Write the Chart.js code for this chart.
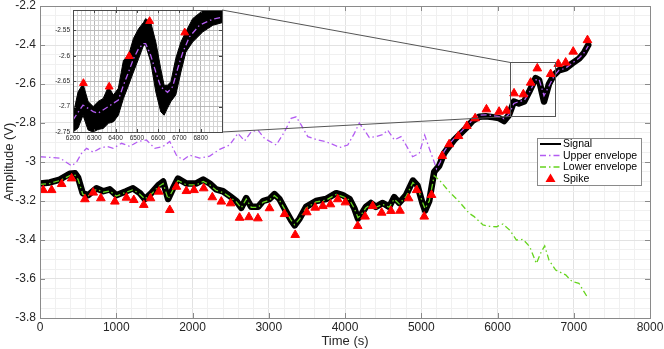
<!DOCTYPE html>
<html>
<head>
<meta charset="utf-8">
<script src="https://cdn.jsdelivr.net/npm/chart.js@4.4.1/dist/chart.umd.min.js"></script>
<style>
  html, body { margin: 0; padding: 0; background: #fff; }
  #wrap { position: relative; width: 664px; height: 349px; }
  #main { position: absolute; left: 0; top: 0; }
  #inset { position: absolute; left: 48px; top: 4px; }
</style>
</head>
<body>
<div id="wrap">
  <canvas id="main" width="664" height="349"></canvas>
  <canvas id="inset" width="180" height="140"></canvas>
</div>
<script>
// ---- main plot data (time in s, amplitude in V) ----
const signalTime = [0,130,260,390,460,500,560,630,740,830,915,1000,1130,1220,1310,1375,1460,1550,1615,1680,1745,1810,1920,2050,2140,2225,2310,2400,2490,2575,2640,2705,2770,2860,2925,3010,3075,3140,3230,3295,3340,3405,3490,3620,3750,3885,3970,4060,4125,4170,4210,4275,4340,4405,4495,4580,4645,4710,4800,4890,4950,5015,5050,5105,5170,5235,5300,5365,5430,5500,5585,5670,5760,5845,5935,6020,6085,6150,6215,6280,6350,6415,6500,6545,6610,6675,6740,6805,6895,6980,7070,7135,7190];
const signalAmp = [-3.11,-3.105,-3.09,-3.06,-3.058,-3.08,-3.16,-3.17,-3.135,-3.15,-3.14,-3.17,-3.15,-3.135,-3.16,-3.19,-3.16,-3.12,-3.10,-3.19,-3.135,-3.085,-3.11,-3.11,-3.09,-3.11,-3.14,-3.15,-3.175,-3.2,-3.235,-3.185,-3.23,-3.23,-3.2,-3.19,-3.165,-3.19,-3.255,-3.30,-3.325,-3.29,-3.23,-3.2,-3.19,-3.16,-3.17,-3.19,-3.24,-3.29,-3.27,-3.23,-3.21,-3.23,-3.21,-3.23,-3.18,-3.21,-3.17,-3.095,-3.12,-3.21,-3.25,-3.2,-3.05,-3.02,-2.955,-2.92,-2.887,-2.86,-2.827,-2.79,-2.768,-2.765,-2.77,-2.775,-2.79,-2.76,-2.69,-2.70,-2.69,-2.64,-2.57,-2.58,-2.69,-2.60,-2.554,-2.53,-2.52,-2.494,-2.47,-2.44,-2.40];

const upperTime = [0,262,415,480,546,611,698,785,873,960,1069,1178,1287,1396,1505,1614,1702,1789,1876,1963,2094,2225,2356,2487,2596,2683,2771,2858,2945,3098,3207,3294,3360,3425,3512,3622,3752,3861,3927,4036,4123,4188,4254,4319,4407,4494,4559,4647,4734,4800,4887,4974,5045,5105,5170,5200,5250,5300,5365,5430,5500,5585,5670,5760,5845,5935,6020,6085,6150,6215,6280,6350,6415,6500,6545,6610,6675,6740,6805,6895,6980,7070,7135,7190];
const upperAmp = [-2.973,-2.98,-3.02,-3.0,-2.955,-2.93,-2.95,-2.93,-2.92,-2.93,-2.904,-2.92,-2.895,-2.887,-2.93,-2.92,-2.895,-2.965,-2.99,-2.965,-2.98,-2.97,-2.935,-2.913,-2.853,-2.892,-2.845,-2.836,-2.879,-2.913,-2.845,-2.776,-2.768,-2.81,-2.87,-2.885,-2.896,-2.913,-2.926,-2.913,-2.853,-2.80,-2.836,-2.875,-2.87,-2.86,-2.836,-2.887,-2.87,-2.913,-2.973,-2.956,-2.862,-2.93,-3.0,-3.035,-3.0,-2.945,-2.91,-2.88,-2.853,-2.82,-2.785,-2.76,-2.758,-2.762,-2.767,-2.778,-2.755,-2.70,-2.69,-2.685,-2.645,-2.58,-2.575,-2.66,-2.61,-2.56,-2.53,-2.518,-2.493,-2.467,-2.44,-2.405];

const lowerTime = [0,130,260,390,460,500,560,630,740,830,915,1000,1130,1220,1310,1375,1460,1550,1615,1680,1745,1810,1920,2050,2140,2225,2310,2400,2490,2575,2640,2705,2770,2860,2925,3010,3075,3140,3230,3295,3340,3405,3490,3620,3750,3885,3970,4060,4125,4170,4210,4275,4340,4405,4495,4580,4645,4710,4800,4890,4950,5015,5050,5105,5170,5236,5366,5497,5628,5694,5810,5900,5986,6072,6160,6248,6335,6422,6510,6575,6619,6675,6763,6894,6981,7068,7134,7190];
const lowerAmp = [-3.115,-3.11,-3.095,-3.07,-3.068,-3.09,-3.165,-3.175,-3.14,-3.155,-3.148,-3.175,-3.155,-3.142,-3.165,-3.19,-3.165,-3.128,-3.11,-3.19,-3.142,-3.095,-3.117,-3.117,-3.1,-3.117,-3.145,-3.157,-3.18,-3.205,-3.235,-3.19,-3.232,-3.233,-3.207,-3.195,-3.172,-3.195,-3.257,-3.30,-3.322,-3.292,-3.236,-3.205,-3.196,-3.166,-3.177,-3.195,-3.24,-3.285,-3.272,-3.235,-3.217,-3.232,-3.217,-3.232,-3.19,-3.215,-3.178,-3.105,-3.125,-3.205,-3.24,-3.2,-3.07,-3.092,-3.152,-3.203,-3.263,-3.28,-3.323,-3.33,-3.332,-3.318,-3.349,-3.40,-3.397,-3.434,-3.52,-3.46,-3.43,-3.503,-3.554,-3.579,-3.614,-3.622,-3.665,-3.70];

const spikeTime = [43,153,284,415,589,698,798,982,1134,1230,1361,1449,1558,1702,1789,1920,2020,2147,2260,2378,2500,2618,2740,2858,3010,3207,3347,3499,3609,3709,3809,3905,4005,4167,4263,4363,4481,4603,4721,4834,4939,5039,5135,5275,5366,5488,5598,5707,5855,6021,6121,6217,6339,6435,6522,6697,6797,6894,6993,7180];
const spikeAmp = [-3.144,-3.144,-3.113,-3.084,-3.191,-3.157,-3.186,-3.203,-3.183,-3.195,-3.22,-3.186,-3.152,-3.246,-3.127,-3.149,-3.144,-3.135,-3.181,-3.203,-3.212,-3.286,-3.283,-3.289,-3.237,-3.267,-3.374,-3.258,-3.234,-3.226,-3.217,-3.191,-3.207,-3.328,-3.28,-3.226,-3.26,-3.251,-3.25,-3.186,-3.144,-3.28,-3.169,-2.969,-2.909,-2.867,-2.815,-2.776,-2.73,-2.742,-2.737,-2.648,-2.653,-2.593,-2.52,-2.549,-2.497,-2.49,-2.434,-2.375];

const xTicks = [0,1000,2000,3000,4000,5000,6000,7000,8000];
const yTicks = [-3.8,-3.6,-3.4,-3.2,-3,-2.8,-2.6,-2.4,-2.2];
const legendLabels = ['Signal','Upper envelope','Lower envelope','Spike'];

// ---- inset (zoom of 6200-6900 s) ----
const zoomTime = [6200,6224,6247,6271,6295,6318,6342,6366,6390,6413,6437,6461,6484,6508,6532,6541,6565,6589,6612,6628,6644,6660,6683,6707,6730,6762,6810,6857,6900];
const zoomLow  = [-2.75,-2.742,-2.717,-2.746,-2.75,-2.745,-2.743,-2.733,-2.73,-2.717,-2.684,-2.658,-2.632,-2.606,-2.579,-2.579,-2.612,-2.671,-2.71,-2.717,-2.703,-2.69,-2.677,-2.632,-2.593,-2.573,-2.553,-2.54,-2.535];
const zoomHigh = [-2.717,-2.671,-2.655,-2.69,-2.70,-2.69,-2.684,-2.661,-2.677,-2.664,-2.609,-2.599,-2.566,-2.547,-2.534,-2.527,-2.534,-2.573,-2.625,-2.658,-2.658,-2.651,-2.605,-2.573,-2.553,-2.527,-2.511,-2.505,-2.50];
const zoomEnvTime = [6200,6247,6295,6318,6366,6413,6437,6461,6484,6508,6532,6541,6565,6589,6612,6644,6668,6692,6716,6747,6794,6857,6900];
const zoomEnvAmp  = [-2.726,-2.697,-2.71,-2.713,-2.70,-2.687,-2.658,-2.632,-2.606,-2.586,-2.576,-2.576,-2.599,-2.632,-2.661,-2.672,-2.661,-2.625,-2.593,-2.563,-2.54,-2.528,-2.524];
const zoomSpikeTime = [6249,6370,6464,6560,6725];
const zoomSpikeAmp  = [-2.654,-2.661,-2.601,-2.532,-2.5545];
const zoomXTicks = [6200,6300,6400,6500,6600,6700,6800];
const zoomYTicks = [-2.75,-2.7,-2.65,-2.6,-2.55];
// rectangle marking the zoomed region on the main axes [x0, x1, y0, y1]
const zoomBox = [6170, 6760, -2.765, -2.487];

const PURPLE = '#b35cf2', GREEN = '#66d41e', RED = '#ff0000', INK = '#262626';
const DASHDOT = [6, 3, 1.5, 3];
const INSET_LEFT = 48, INSET_TOP = 4;

Chart.defaults.font.family = '"Liberation Sans", Arial, Helvetica, sans-serif';

const pts = (xs, ys) => xs.map((x, i) => ({x: x, y: ys[i]}));
const near = (list, v, eps) => list.find(t => Math.abs(t - v) < eps);

function drawFrame(chart, xs, ys, color, len) {
  const {ctx, chartArea: a, scales: {x, y}} = chart;
  ctx.save();
  ctx.strokeStyle = color;
  ctx.lineWidth = 1;
  ctx.beginPath();
  xs.forEach(v => {
    const px = Math.round(x.getPixelForValue(v)) + 0.5;
    ctx.moveTo(px, a.bottom); ctx.lineTo(px, a.bottom - len);
    ctx.moveTo(px, a.top); ctx.lineTo(px, a.top + len);
  });
  ys.forEach(v => {
    const py = Math.round(y.getPixelForValue(v)) + 0.5;
    ctx.moveTo(a.left, py); ctx.lineTo(a.left + len, py);
    ctx.moveTo(a.right, py); ctx.lineTo(a.right - len, py);
  });
  ctx.stroke();
  ctx.strokeRect(Math.round(a.left) + 0.5, Math.round(a.top) + 0.5,
                 Math.round(a.right - a.left), Math.round(a.bottom - a.top));
  ctx.restore();
}

const insetDeco = {
  id: 'insetDeco',
  beforeDraw(chart) {
    const {ctx, chartArea: a} = chart;
    ctx.save();
    ctx.fillStyle = '#fff';
    ctx.fillRect(a.left, a.top, a.right - a.left, a.bottom - a.top);
    ctx.restore();
  },
  afterDraw(chart) {
    drawFrame(chart, zoomXTicks, zoomYTicks, '#4a4a4a', 3);
  }
};

const insetChart = new Chart(document.getElementById('inset'), {
  type: 'line',
  data: {
    datasets: [
      {data: pts(zoomTime, zoomLow), borderColor: '#000', borderWidth: 1, pointRadius: 0, fill: false, order: 2},
      {data: pts(zoomTime, zoomHigh), borderColor: '#000', borderWidth: 1, pointRadius: 0, fill: '-1', backgroundColor: '#000', order: 2},
      {data: pts(zoomEnvTime, zoomEnvAmp), borderColor: PURPLE, borderWidth: 1.3, borderDash: DASHDOT, pointRadius: 0, fill: false, order: 1},
      {data: pts(zoomSpikeTime, zoomSpikeAmp), showLine: false, pointStyle: 'triangle', pointRadius: 4.5,
       backgroundColor: RED, borderColor: RED, borderWidth: 1, order: 0}
    ]
  },
  options: {
    responsive: false, animation: false, events: [], devicePixelRatio: 1,
    layout: {padding: {top: 6, right: 6, left: 0, bottom: 0}},
    plugins: {legend: {display: false}, tooltip: {enabled: false}},
    scales: {
      x: {
        type: 'linear', min: 6200, max: 6900,
        afterFit: s => { s.height = 12; s.paddingLeft = 0; s.paddingRight = 0; },
        ticks: {stepSize: 20, autoSkip: false, maxRotation: 0, padding: 2, font: {size: 6.5}, color: INK,
                callback: v => { const t = near(zoomXTicks, v, 1); return t === undefined ? '' : String(t); }},
        grid: {drawTicks: false, color: c => (c.tick && near(zoomXTicks, c.tick.value, 1) !== undefined) ? '#b8b8b8' : '#d4d4d4'},
        border: {display: false}
      },
      y: {
        type: 'linear', min: -2.75, max: -2.51,
        afterFit: s => { s.width = 25; s.paddingTop = 0; s.paddingBottom = 0; },
        ticks: {stepSize: 0.01, autoSkip: false, padding: 3, font: {size: 6.5}, color: INK,
                callback: v => { const t = near(zoomYTicks, v, 1e-4); return t === undefined ? '' : String(t); }},
        grid: {drawTicks: false, color: c => (c.tick && near(zoomYTicks, c.tick.value, 1e-4) !== undefined) ? '#b8b8b8' : '#d4d4d4'},
        border: {display: false}
      }
    }
  },
  plugins: [insetDeco]
});

const mainDeco = {
  id: 'mainDeco',
  afterDatasetsDraw(chart) {
    const {ctx, scales: {x, y}} = chart;
    const bx0 = Math.round(x.getPixelForValue(zoomBox[0])) + 0.5;
    const bx1 = Math.round(x.getPixelForValue(zoomBox[1])) + 0.5;
    const byT = Math.round(y.getPixelForValue(zoomBox[3])) + 0.5;
    const byB = Math.round(y.getPixelForValue(zoomBox[2])) + 0.5;
    const ia = insetChart.chartArea;
    ctx.save();
    ctx.strokeStyle = '#555';
    ctx.lineWidth = 1;
    ctx.strokeRect(bx0, byT, bx1 - bx0, byB - byT);
    ctx.beginPath();
    ctx.moveTo(INSET_LEFT + ia.right, INSET_TOP + ia.top); ctx.lineTo(bx0, byT);
    ctx.moveTo(INSET_LEFT + ia.right, INSET_TOP + ia.bottom); ctx.lineTo(bx0, byB);
    ctx.stroke();
    ctx.restore();
  },
  afterDraw(chart) {
    drawFrame(chart, xTicks, yTicks, '#8a8a8a', 5);
    // legend
    const ctx = chart.ctx;
    const L = 537, T = 138, W = 104, H = 47;
    ctx.save();
    ctx.fillStyle = '#fff';
    ctx.fillRect(L, T, W, H);
    ctx.strokeStyle = '#8a8a8a';
    ctx.lineWidth = 1;
    ctx.strokeRect(L + 0.5, T + 0.5, W, H);
    const rows = [144, 155.5, 167, 178.5];
    const styles = [
      {c: '#000', w: 2, d: []},
      {c: PURPLE, w: 1.3, d: DASHDOT},
      {c: GREEN, w: 1.3, d: DASHDOT}
    ];
    styles.forEach((s, i) => {
      ctx.beginPath();
      ctx.strokeStyle = s.c; ctx.lineWidth = s.w; ctx.setLineDash(s.d);
      ctx.moveTo(540, rows[i]); ctx.lineTo(561, rows[i]);
      ctx.stroke();
    });
    ctx.setLineDash([]);
    ctx.fillStyle = RED;
    ctx.beginPath();
    ctx.moveTo(550.5, rows[3] - 5); ctx.lineTo(555.5, rows[3] + 3.5); ctx.lineTo(545.5, rows[3] + 3.5);
    ctx.closePath(); ctx.fill();
    ctx.fillStyle = '#000';
    ctx.font = '10.5px "Liberation Sans", Arial, sans-serif';
    ctx.textBaseline = 'middle';
    legendLabels.forEach((t, i) => ctx.fillText(t, 563, rows[i] + 0.5));
    ctx.restore();
  }
};

new Chart(document.getElementById('main'), {
  type: 'line',
  data: {
    datasets: [
      {label: legendLabels[0], data: pts(signalTime, signalAmp), borderColor: '#000', borderWidth: 6.5,
       borderJoinStyle: 'round', borderCapStyle: 'round', pointRadius: 0, fill: false, order: 3},
      {label: legendLabels[1], data: pts(upperTime, upperAmp), borderColor: PURPLE, borderWidth: 1.3,
       borderDash: DASHDOT, pointRadius: 0, fill: false, order: 1},
      {label: legendLabels[2], data: pts(lowerTime, lowerAmp), borderColor: GREEN, borderWidth: 1.3,
       borderDash: DASHDOT, pointRadius: 0, fill: false, order: 2},
      {label: legendLabels[3], data: pts(spikeTime, spikeAmp), showLine: false, pointStyle: 'triangle',
       pointRadius: 5, backgroundColor: RED, borderColor: RED, borderWidth: 1, order: 0}
    ]
  },
  options: {
    responsive: false, animation: false, events: [], devicePixelRatio: 1,
    layout: {padding: {top: 6, right: 14, left: 0, bottom: 0}},
    plugins: {legend: {display: false}, tooltip: {enabled: false}},
    scales: {
      x: {
        type: 'linear', min: 0, max: 8000,
        afterFit: s => { s.height = 31; s.paddingLeft = 0; s.paddingRight = 0; },
        ticks: {stepSize: 200, autoSkip: false, maxRotation: 0, padding: 2, font: {size: 12}, color: INK,
                callback: v => { const t = near(xTicks, v, 1); return t === undefined ? '' : String(t); }},
        grid: {drawTicks: false, color: c => (c.tick && near(xTicks, c.tick.value, 1) !== undefined) ? '#e2e2e2' : '#f0f0f0'},
        border: {display: false},
        title: {display: true, text: 'Time (s)', font: {size: 13}, color: INK, padding: 0}
      },
      y: {
        type: 'linear', min: -3.8, max: -2.2,
        afterFit: s => { s.width = 40; s.paddingTop = 0; s.paddingBottom = 0; },
        ticks: {stepSize: 0.05, autoSkip: false, padding: 4, font: {size: 12}, color: INK,
                callback: v => { const t = near(yTicks, v, 1e-4); return t === undefined ? '' : String(t); }},
        grid: {drawTicks: false, color: c => (c.tick && near(yTicks, c.tick.value, 1e-4) !== undefined) ? '#e2e2e2' : '#f0f0f0'},
        border: {display: false},
        title: {display: true, text: 'Amplitude (V)', font: {size: 13}, color: INK, padding: {top: 2}}
      }
    }
  },
  plugins: [mainDeco]
});
</script>
</body>
</html>
